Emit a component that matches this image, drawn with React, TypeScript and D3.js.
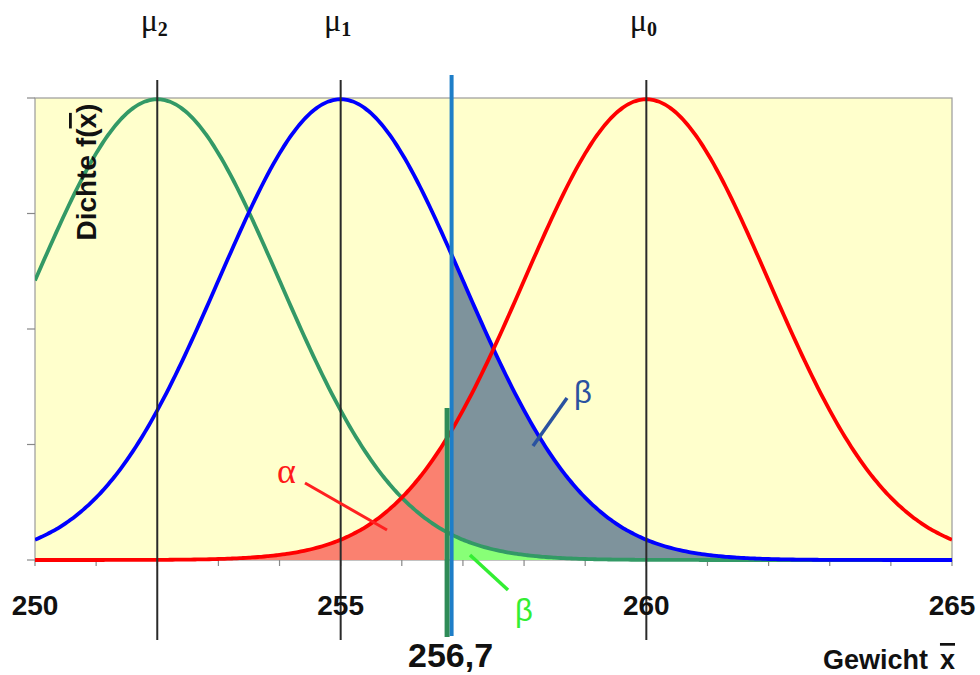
import React from 'react';
import * as d3 from 'd3';

// ---- data ----
const distKeys = ['0', '1', '2'];
const distMeans = [260, 255, 252];
const distSigmas = [2, 2, 2];
const distColors = ['#ff0000', '#0000ff', '#339966'];
const xTickLabels = [250, 255, 260, 265];
const xMinorTicks = d3.range(250, 266, 1);
const yTicks = [0, 0.05, 0.1, 0.15, 0.2];
const cutoff = 256.7;
const cutoffLabel = '256,7';

const W = 980, H = 675;
const X0 = 35, X1 = 952, Y0 = 560, Y1 = 98;

const pdf = (x: number, m: number, s: number) =>
  Math.exp(-0.5 * ((x - m) / s) ** 2) / (s * Math.sqrt(2 * Math.PI));

export default function App() {
  const x = d3.scaleLinear().domain([250, 265]).range([X0, X1]);
  const y = d3.scaleLinear().domain([0, 0.2]).range([Y0, Y1]);
  const grid = d3.range(250, 265.0001, 0.05);
  const line = d3.line<number[]>().x(d => x(d[0])).y(d => y(d[1])).curve(d3.curveBasis);
  const area = d3.area<number[]>().x(d => x(d[0])).y0(y(0)).y1(d => y(d[1]));

  const curves = distMeans.map((m, i) => grid.map(g => [g, pdf(g, m, distSigmas[i])]));
  const leftGrid = grid.filter(g => g <= cutoff).concat([cutoff]);
  const rightGrid = [cutoff].concat(grid.filter(g => g >= cutoff));
  const redArea = leftGrid.map(g => [g, pdf(g, distMeans[0], distSigmas[0])]);
  const grayArea = rightGrid.map(g => [g, pdf(g, distMeans[1], distSigmas[1])]);
  const greenArea = rightGrid.map(g => [g, pdf(g, distMeans[2], distSigmas[2])]);
  const xc = x(cutoff);
  const xBlue = xc + 7;
  const xGreen = xc + 2.5;

  const sans = '"Liberation Sans", Arial, sans-serif';
  const serif = '"Liberation Serif", "Times New Roman", serif';

  return (
    <svg width={W} height={H} style={{ position: 'absolute', left: 0, top: 0, background: '#fff' }}>
      <defs>
        <clipPath id="plot"><rect x={X0} y={Y1 - 2} width={X1 - X0} height={Y0 - Y1 + 4} /></clipPath>
        <clipPath id="right"><rect x={xBlue} y={Y1 - 2} width={X1 - xBlue} height={Y0 - Y1 + 4} /></clipPath>
        <clipPath id="left"><rect x={X0} y={Y1 - 2} width={xGreen - X0} height={Y0 - Y1 + 4} /></clipPath>
      </defs>
      <rect x={X0} y={Y1} width={X1 - X0} height={Y0 - Y1} fill="#ffffcc" stroke="#9a9a9a" strokeWidth={1.2} />
      {yTicks.map(t => (
        <line key={t} x1={X0 - 8} x2={X0} y1={y(t)} y2={y(t)} stroke="#888" strokeWidth={1.2} />
      ))}
      {xMinorTicks.map(t => (
        <line key={t} x1={x(t)} x2={x(t)} y1={Y0} y2={Y0 + 6} stroke="#888" strokeWidth={1.2} />
      ))}
      <g clipPath="url(#left)">
        <path d={area(redArea) || ''} fill="#fa8170" />
      </g>
      <g clipPath="url(#right)">
        <path d={area(grayArea) || ''} fill="#7e939c" />
        <path d={area(greenArea) || ''} fill="#88ff77" />
      </g>
      <g clipPath="url(#plot)">
        {[2, 1, 0].map(i => (
          <path key={i} d={line(curves[i] as any) || ''} fill="none" stroke={distColors[i]} strokeWidth={3.8} />
        ))}
      </g>
      {distMeans.map((m, i) => (
        <line key={i} x1={x(m)} x2={x(m)} y1={80} y2={640} stroke="#2a2a2a" strokeWidth={2} />
      ))}
      {distMeans.map((m, i) => (
        <text key={i} x={x(m) - 3} y={31} textAnchor="middle" fontFamily={serif} fontSize={32} fill="#111">
          μ<tspan fontSize={20} fontWeight="bold" dy={5}>{distKeys[i]}</tspan>
        </text>
      ))}
      {/* cutoff lines */}
      <line x1={xBlue} x2={xBlue} y1={75} y2={636} stroke="#1e7ec8" strokeWidth={4} />
      <line x1={xGreen} x2={xGreen} y1={408} y2={637} stroke="#2e8b57" strokeWidth={5} />
      <line x1={xBlue} x2={xBlue} y1={560} y2={636} stroke="#1e7ec8" strokeWidth={2} />

      {/* tick labels */}
      {xTickLabels.map(t => (
        <text key={t} x={x(t)} y={615} textAnchor="middle" fontFamily={sans} fontWeight="bold" fontSize={28} fill="#111">{t}</text>
      ))}
      <text x={xc + 6} y={667} textAnchor="middle" fontFamily={sans} fontWeight="bold" fontSize={34} fill="#111">{cutoffLabel}</text>
      <text x={955} y={669} textAnchor="end" fontFamily={sans} fontWeight="bold" fontSize={27} fill="#111">
        Gewicht<tspan dx={12} style={{ textDecoration: 'overline' }}>x</tspan>
      </text>
      <text transform="translate(96,172) rotate(-90)" textAnchor="middle" fontFamily={sans} fontWeight="bold" fontSize={28} fill="#111">
        Dichte f(<tspan style={{ textDecoration: 'overline' }}>x</tspan>)
      </text>

      {/* annotations */}
      <text x={277} y={483} fontFamily={serif} fontSize={36} fill="#ff1a1a">α</text>
      <line x1={305} y1={483} x2={387} y2={530} stroke="#ff2020" strokeWidth={3} />
      <text x={574} y={403} fontFamily={sans} fontSize={31} fill="#2a52a0">β</text>
      <line x1={567} y1={398} x2={533} y2={446} stroke="#2a52a0" strokeWidth={3.5} />
      <text x={515} y={621} fontFamily={sans} fontSize={31} fill="#33ee33">β</text>
      <line x1={470} y1={555} x2={508} y2={590} stroke="#33ee33" strokeWidth={3.5} />
    </svg>
  );
}
